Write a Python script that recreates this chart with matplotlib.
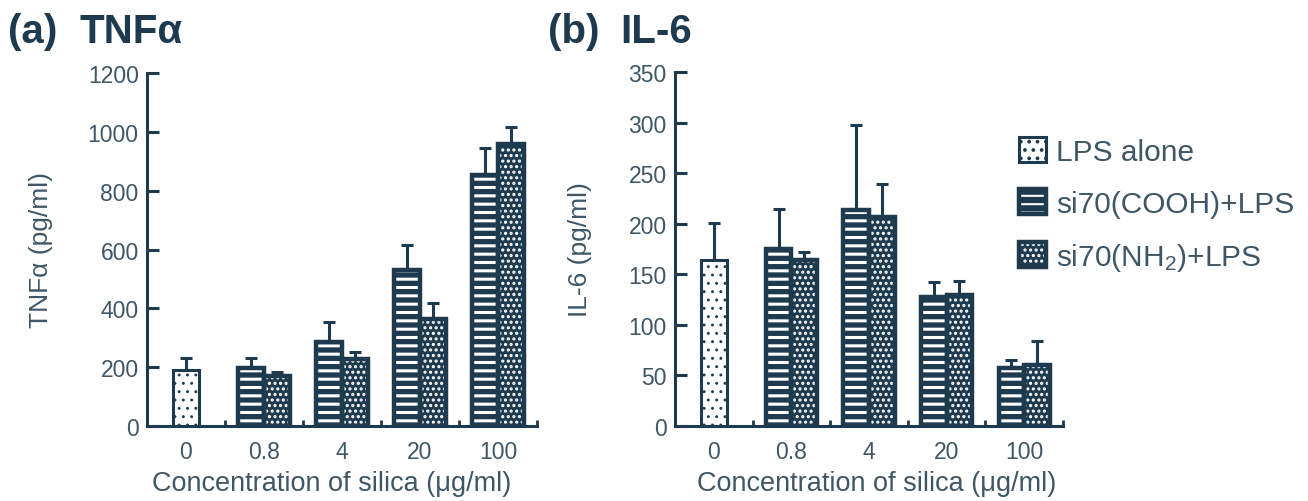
import numpy as np
import matplotlib
matplotlib.use("Agg")
import matplotlib.pyplot as plt
from matplotlib.patches import Patch

plt.rcParams['font.family'] = ['Liberation Sans', 'DejaVu Sans']
plt.rcParams['mathtext.fontset'] = 'custom'
plt.rcParams['mathtext.rm'] = 'Liberation Sans'
plt.rcParams['mathtext.it'] = 'Liberation Sans:italic'
plt.rcParams['hatch.linewidth'] = 1.5

# data
conc_labels = ['0', '0.8', '4', '20', '100']
series_names = ['LPS alone', 'si70(COOH)+LPS', 'si70(NH$_2$)+LPS']

tnf_lps, tnf_lps_err = 190, 40
tnf_cooh = [197, 285, 529, 854]
tnf_cooh_err = [34, 69, 85, 92]
tnf_nh2 = [170, 228, 363, 959]
tnf_nh2_err = [13, 23, 54, 58]

il6_lps, il6_lps_err = 164, 37
il6_cooh = [175, 214, 128, 57]
il6_cooh_err = [40, 84, 14, 8]
il6_nh2 = [164, 207, 130, 60]
il6_nh2_err = [8, 32, 13, 24]

DARK = '#1e3a4f'
TXT = '#3f5666'
W = 1308
H = 502
bw = 0.33


def hatch_lw(p, lw):
    if hasattr(p, 'set_hatch_linewidth'):
        p.set_hatch_linewidth(lw)


def white_bar(ax, x, h):
    bars = ax.bar(x, h, bw, facecolor='white', edgecolor=DARK, hatch='..',
                  linewidth=2.2, zorder=3)
    for p in bars:
        hatch_lw(p, 0.9)


def dark_bar(ax, x, h, hatch, hlw):
    bars = ax.bar(x, h, bw, facecolor=DARK, edgecolor='white', hatch=hatch,
                  linewidth=0, zorder=3)
    for p in bars:
        hatch_lw(p, hlw)
    ax.bar(x, h, bw, facecolor='none', edgecolor=DARK, linewidth=3.2, zorder=4)


def err(ax, x, h, e):
    ax.errorbar(x, h, yerr=[np.zeros(len(e)), e], fmt='none', ecolor=DARK,
                elinewidth=2.2, capsize=4.5, capthick=2.2, zorder=2)


def panel(ax, lps, lps_err, cooh, cooh_err, nh2, nh2_err, ymax, step):
    xg = np.arange(1, len(conc_labels))
    white_bar(ax, [0], [lps])
    err(ax, [0], [lps], [lps_err])
    dark_bar(ax, xg - bw / 2, cooh, '--', 2.2)
    err(ax, xg - bw / 2, cooh, cooh_err)
    dark_bar(ax, xg + bw / 2, nh2, '...', 1.5)
    err(ax, xg + bw / 2, nh2, nh2_err)

    ax.set_xlim(-0.5, len(conc_labels) - 0.5)
    ax.set_ylim(0, ymax)
    ax.set_yticks(np.arange(0, ymax + 1, step))
    ax.set_xticks(np.arange(len(conc_labels)))
    ax.set_xticklabels(conc_labels)
    ax.set_xticks(np.arange(len(conc_labels)) + 0.5, minor=True)
    for s in ['top', 'right']:
        ax.spines[s].set_visible(False)
    for s in ['left', 'bottom']:
        ax.spines[s].set_linewidth(2.2)
        ax.spines[s].set_color(DARK)
    ax.tick_params(axis='y', direction='in', length=8.5, width=2.2,
                   color=DARK, labelsize=16.5, labelcolor=TXT, pad=6)
    ax.tick_params(axis='x', which='major', length=0, labelsize=16.5,
                   labelcolor=TXT, pad=10)
    ax.tick_params(axis='x', which='minor', direction='in', length=4.5,
                   width=2, color=DARK)
    ax.set_xlabel('Concentration of silica (\u03bcg/ml)', fontsize=19.5,
                  color=TXT)


fig = plt.figure(figsize=(W / 100, H / 100), dpi=100)
ax1 = fig.add_axes([147 / W, 75 / H, 390 / W, 353 / H])
ax2 = fig.add_axes([675 / W, 75 / H, 388 / W, 354 / H])

panel(ax1, tnf_lps, tnf_lps_err, tnf_cooh, tnf_cooh_err, tnf_nh2, tnf_nh2_err,
      1200, 200)
panel(ax2, il6_lps, il6_lps_err, il6_cooh, il6_cooh_err, il6_nh2, il6_nh2_err,
      350, 50)

ax1.set_ylabel('TNF\u03b1 (pg/ml)', fontsize=19, color=TXT)
ax2.set_ylabel('IL-6 (pg/ml)', fontsize=19, color=TXT)
ax1.yaxis.set_label_coords(-0.24, 0.5)
ax2.yaxis.set_label_coords(-0.215, 0.5)
ax1.xaxis.set_label_coords(0.474, -0.125)
ax2.xaxis.set_label_coords(0.52, -0.125)

for x, s in [(8, '(a)'), (80, 'TNF\u03b1'), (548, '(b)'), (620, 'IL-6')]:
    fig.text(x / W, 1 - 32 / H, s, fontsize=29, fontweight='bold',
             color=DARK, va='center', ha='left')

# legend
h_lps = Patch(facecolor='white', edgecolor=DARK, hatch='..', linewidth=2.2)
hatch_lw(h_lps, 0.9)
h_c = Patch(facecolor=DARK, edgecolor='white', hatch='--', linewidth=0)
hatch_lw(h_c, 2.2)
h_n = Patch(facecolor=DARK, edgecolor='white', hatch='...', linewidth=0)
hatch_lw(h_n, 1.5)
frame = Patch(facecolor='none', edgecolor=DARK, linewidth=3.2)
fig.legend([h_lps, (h_c, frame), (h_n, frame)], series_names,
           loc='upper left', bbox_to_anchor=(1019 / W, 1 - 138 / H),
           frameon=False, fontsize=21.5, labelcolor=TXT, handlelength=0.9,
           handleheight=0.9, handletextpad=0.35, labelspacing=0.78,
           borderpad=0, borderaxespad=0)

fig.savefig('out.png', dpi=100, facecolor='white')
